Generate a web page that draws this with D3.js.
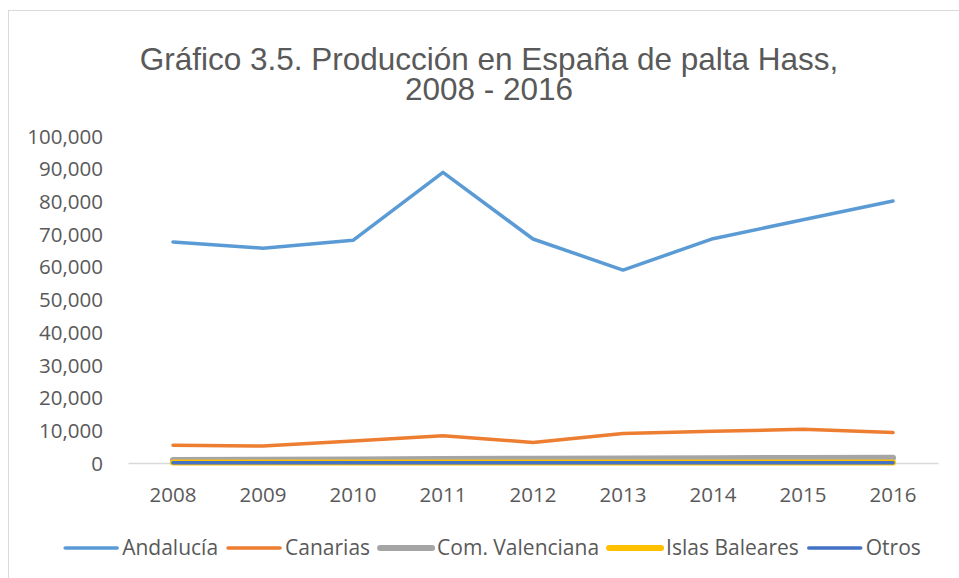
<!DOCTYPE html>
<html>
<head>
<meta charset="utf-8">
<script src="https://cdn.jsdelivr.net/npm/d3@7"></script>
<style>
  body { margin: 0; background: #fff; }
  text { font-family: "Open Sans", sans-serif; fill: #595959; }
</style>
</head>
<body>
<script>
// data
var years = ["2008", "2009", "2010", "2011", "2012", "2013", "2014", "2015", "2016"];
var andalucia = [67600, 65700, 68100, 88900, 68500, 59000, 68600, 74400, 80100];
var canarias = [5400, 5200, 6700, 8300, 6300, 9000, 9700, 10300, 9300];
var valenciana = [900, 1000, 1100, 1200, 1300, 1400, 1450, 1550, 1600];
var baleares = [150, 150, 150, 150, 150, 150, 150, 150, 150];
var otros = [40, 40, 40, 40, 40, 40, 40, 40, 40];
var yTicks = [0, 10000, 20000, 30000, 40000, 50000, 60000, 70000, 80000, 90000, 100000];
var seriesNames = ["Andalucía", "Canarias", "Com. Valenciana", "Islas Baleares", "Otros"];

var width = 959, height = 578;

var series = [
    { name: seriesNames[0], values: andalucia, color: "#5B9BD5", w: 3.5 },
    { name: seriesNames[1], values: canarias, color: "#ED7D31", w: 3.5 },
    { name: seriesNames[2], values: valenciana, color: "#A5A5A5", w: 6 },
    { name: seriesNames[3], values: baleares, color: "#FFC000", w: 6 },
    { name: seriesNames[4], values: otros, color: "#4472C4", w: 3.5 }
];

var svg = d3.select("body").append("svg")
    .attr("width", width)
    .attr("height", height);

// chart area border (only top and left fall inside the picture)
svg.append("rect")
    .attr("x", 8.5).attr("y", 10.5)
    .attr("width", 960).attr("height", 600)
    .attr("fill", "none")
    .attr("stroke", "#d9d9d9");

// title
var title = svg.append("text")
    .attr("text-anchor", "middle")
    .style("font-family", "'Liberation Sans', Arial, sans-serif")
    .style("font-size", "31.5px");
title.append("tspan").attr("x", 489).attr("y", 70).text("Gráfico 3.5. Producción en España de palta Hass,");
title.append("tspan").attr("x", 489).attr("y", 100).text("2008 - 2016");

var x = d3.scaleBand().domain(years).range([128, 938]);
var y = d3.scaleLinear().domain([0, 100000]).range([463, 136]);

// y axis labels
var yAxis = d3.axisLeft(y)
    .tickValues(yTicks)
    .tickSize(0)
    .tickPadding(0)
    .tickFormat(d3.format(","));

svg.append("g")
    .attr("transform", "translate(103,0)")
    .call(yAxis)
    .call(function(g) {
        g.select(".domain").remove();
        g.selectAll("text")
            .style("font-size", "20.5px")
            .attr("fill", "#595959")
            .attr("dy", "0.35em");
    });

// x axis
var xAxis = d3.axisBottom(x).tickSize(0).tickPadding(0);

svg.append("g")
    .attr("transform", "translate(0,463)")
    .call(xAxis)
    .call(function(g) {
        g.select(".domain")
            .attr("stroke", "#d9d9d9")
            .attr("stroke-width", 1.3);
        g.selectAll("text")
            .style("font-size", "20.5px")
            .attr("fill", "#595959")
            .attr("y", 32)
            .attr("dy", "0.35em");
    });

var line = d3.line()
    .x(function(d, i) { return x(years[i]) + x.bandwidth() / 2; })
    .y(function(d) { return y(d); });

svg.append("g").selectAll("path")
    .data(series)
    .enter().append("path")
    .attr("d", function(d) { return line(d.values); })
    .attr("fill", "none")
    .attr("stroke", function(d) { return d.color; })
    .attr("stroke-width", function(d) { return d.w; })
    .attr("stroke-linejoin", "round")
    .attr("stroke-linecap", "round");

// legend
var legend = svg.append("g");
var cursor = 0;
series.forEach(function(s) {
    var item = legend.append("g").attr("transform", "translate(" + cursor + ",0)");
    item.append("line")
        .attr("x1", 0).attr("x2", 52)
        .attr("y1", 0).attr("y2", 0)
        .attr("stroke", s.color)
        .attr("stroke-width", s.w)
        .attr("stroke-linecap", "round");
    var t = item.append("text")
        .attr("x", 57)
        .attr("dy", "0.35em")
        .style("font-size", "21px")
        .text(s.name);
    cursor += 57 + t.node().getComputedTextLength() + 10;
});
cursor -= 10;
legend.attr("transform", "translate(" + (493 - cursor / 2) + ",548)");
</script>
</body>
</html>
